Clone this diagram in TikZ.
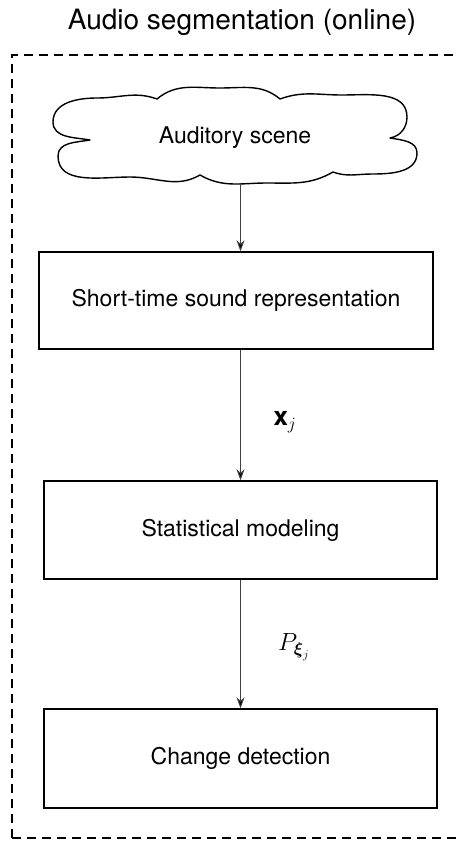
\documentclass[tikz,border=0pt]{standalone}
\usepackage{amsmath}
\usepackage{fontspec}
\setmainfont{TeX Gyre Heros}
\usetikzlibrary{arrows.meta}
\begin{document}
\begin{tikzpicture}[x=1pt,y=1pt,
  stagebox/.style={draw=black,line width=1.4pt,rectangle,inner sep=0pt,font=\fontsize{23}{27}\selectfont},
  arr/.style={draw=black!75,line width=0.9pt,-{Stealth[length=11pt,width=8pt,inset=3.5pt,fill=black]}},
  lbl/.style={font=\fontsize{26}{30}\selectfont},
  dashframe/.style={line width=1.3pt,dash pattern=on 9pt off 6pt}]
\useasboundingbox (0,0) rectangle (463,-841);
\coordinate (fbl) at (12,-838);
\coordinate (ftl) at (12,-55);
\coordinate (ftr) at (456,-55);
\coordinate (fbr) at (456,-838);
\draw[dashframe] (fbl) -- (ftl) -- (ftr);
\draw[dashframe] (fbl) -- (fbr);
\node[font=\fontsize{28}{33}\selectfont] (title) at (242,-22) {Audio segmentation (online)};
% cloud outline
\draw[line width=1.4pt,line join=round]
  (90,-140) to[out=170,in=-90] (53,-122) to[out=90,in=180] (97,-98) to[out=0,in=160] (157,-99)
  to[out=40,in=180] (220,-88) to[out=0,in=140] (280,-99)
  to[out=20,in=180] (342,-95) to[out=0,in=90] (407,-117) to[out=-90,in=10] (390,-138)
  to[out=-10,in=90] (417,-153) to[out=-90,in=0] (372,-174) to[out=180,in=-20] (333,-172)
  to[out=-150,in=0] (267,-183) to[out=180,in=-30] (200,-175)
  to[out=-150,in=0] (130,-177) to[out=180,in=-90] (58,-156) to[out=90,in=-170] cycle;
\node[minimum width=364pt,minimum height=95pt,inner sep=0pt] (cloud) at (235,-135.5) {};
\node[font=\fontsize{23}{27}\selectfont] (cloudtext) at (235,-138) {Auditory scene};
\node[stagebox,minimum width=394pt,minimum height=97pt] (box1) at (236,-300.5) {Short-time sound representation};
\node[stagebox,minimum width=393pt,minimum height=98pt] (box2) at (240.5,-530) {Statistical modeling};
\node[stagebox,minimum width=393pt,minimum height=99pt] (box3) at (240.5,-758.5) {Change detection};
\draw[arr] (cloud.south -| box2) -- (box1.north -| box2);
\draw[arr] (box1.south -| box2) -- (box2.north);
\draw[arr] (box2.south) -- (box3.north);
\node[lbl] (xj) at (285,-422) {$\mathbf{x}_j$};
\node[lbl] (pxi) at (294,-647) {$P_{\boldsymbol{\xi}_j}$};
\end{tikzpicture}
\end{document}
